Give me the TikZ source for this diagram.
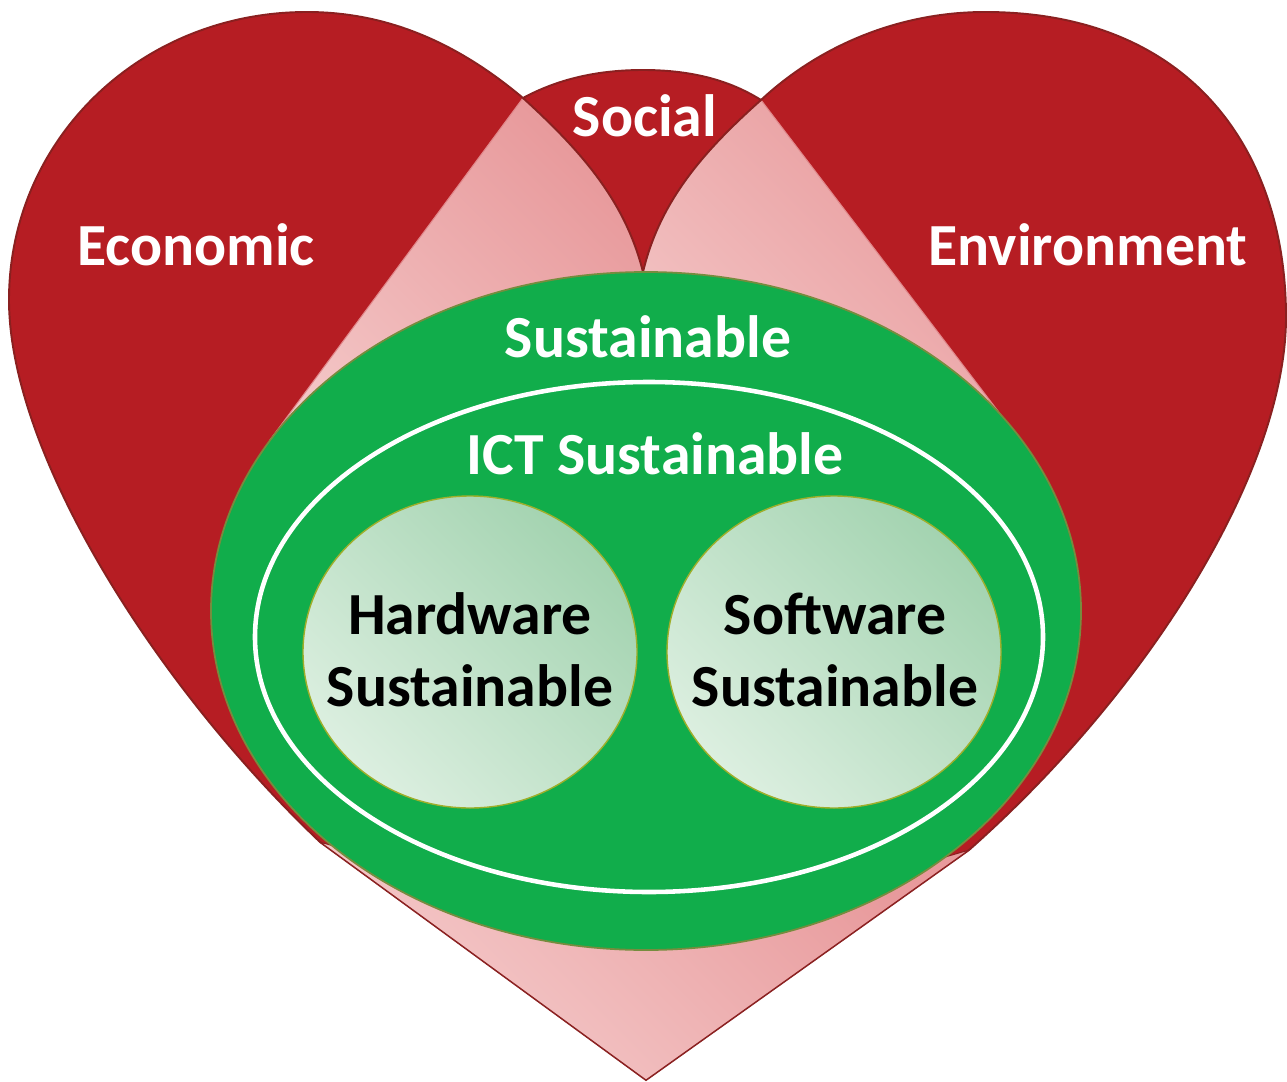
\documentclass[tikz,border=0pt]{standalone}
\usepackage{fontspec}
\setmainfont{Carlito}
\usetikzlibrary{calc}
\definecolor{lobered}{RGB}{182,29,35}
\definecolor{lobeline}{RGB}{138,32,32}
\definecolor{pinkdark}{RGB}{232,154,156}
\definecolor{pinklight}{RGB}{245,204,204}
\definecolor{ictgreen}{RGB}{17,173,75}
\definecolor{olive}{RGB}{118,140,62}
\definecolor{mintdark}{RGB}{163,211,176}
\definecolor{mintlight}{RGB}{220,239,224}

\begin{document}
\begin{tikzpicture}[x=0.02cm,y=-0.02cm]
            \tikzset{lobe/.style={fill=lobered,draw=lobeline,line width=1.1pt}};
            \tikzset{wedge/.style={top color=pinkdark,bottom color=pinklight,shading angle=-45,draw=pinkdark!85!lobered,line width=0.6pt}};
            \tikzset{part/.style={top color=mintdark,bottom color=mintlight,shading angle=-45,draw=olive!70!yellow,line width=0.8pt}};
            \tikzset{lbl/.style={font=\fontsize{34}{41}\selectfont\bfseries,text=white,inner sep=0pt}};
            \tikzset{inlbl/.style={lbl,text=black,align=center}};
            \useasboundingbox (0,0) rectangle (1287,1081);

            \draw[lobe] (523,98) .. controls (460,45) and (390,12) .. (307,12)
               .. controls (140,12) and (9,140) .. (9,300)
               .. controls (9,450) and (150,680) .. (320,842)
               -- (646,1080) -- (969,850)
               .. controls (1150,690) and (1286,470) .. (1286,317)
               .. controls (1286,150) and (1190,12) .. (985,12)
               .. controls (900,12) and (820,45) .. (761,100) -- cycle;

            \draw[wedge] (523,98) -- (270,440) -- (643,560) -- (643,272)
               .. controls (625,200) and (580,150) .. (523,98) -- cycle;
            \draw[wedge] (761,100) -- (1020,440) -- (643,560) -- (643,272)
               .. controls (660,200) and (705,150) .. (761,100) -- cycle;
            \draw[wedge,draw=lobeline] (320,842) -- (646,1080) -- (969,850) -- (660,940) -- cycle;

            \draw[lobe] (523,98) .. controls (560,78) and (600,70) .. (643,70)
               .. controls (686,70) and (726,78) .. (761,100)
               .. controls (705,150) and (660,200) .. (643,272)
               .. controls (625,200) and (580,150) .. (523,98) -- cycle;

            \draw[fill=ictgreen,draw=olive,line width=1pt] (646,611) ellipse [x radius=435,y radius=339];
            \draw[white,line width=2.6pt] (649,637) ellipse [x radius=394,y radius=255];
            \draw[part] (470,652) ellipse [x radius=167,y radius=156];
            \draw[part] (834,652) ellipse [x radius=167,y radius=156];

            \node[lbl,anchor=base] (econ) at (196,265) {Economic};
            \node[lbl,anchor=base] (social) at (645,137) {Social};
            \node[lbl,anchor=base] (env) at (1088,265) {Environment};
            \node[lbl,anchor=base] (sust) at (648,357) {Sustainable};
            \node[lbl,anchor=base] (ict) at (655,474) {ICT Sustainable};
            \node[inlbl] (hw) at (470,650) {Hardware\\Sustainable};
            \node[inlbl] (sw) at (835,650) {Software\\Sustainable};
\end{tikzpicture}
\end{document}
